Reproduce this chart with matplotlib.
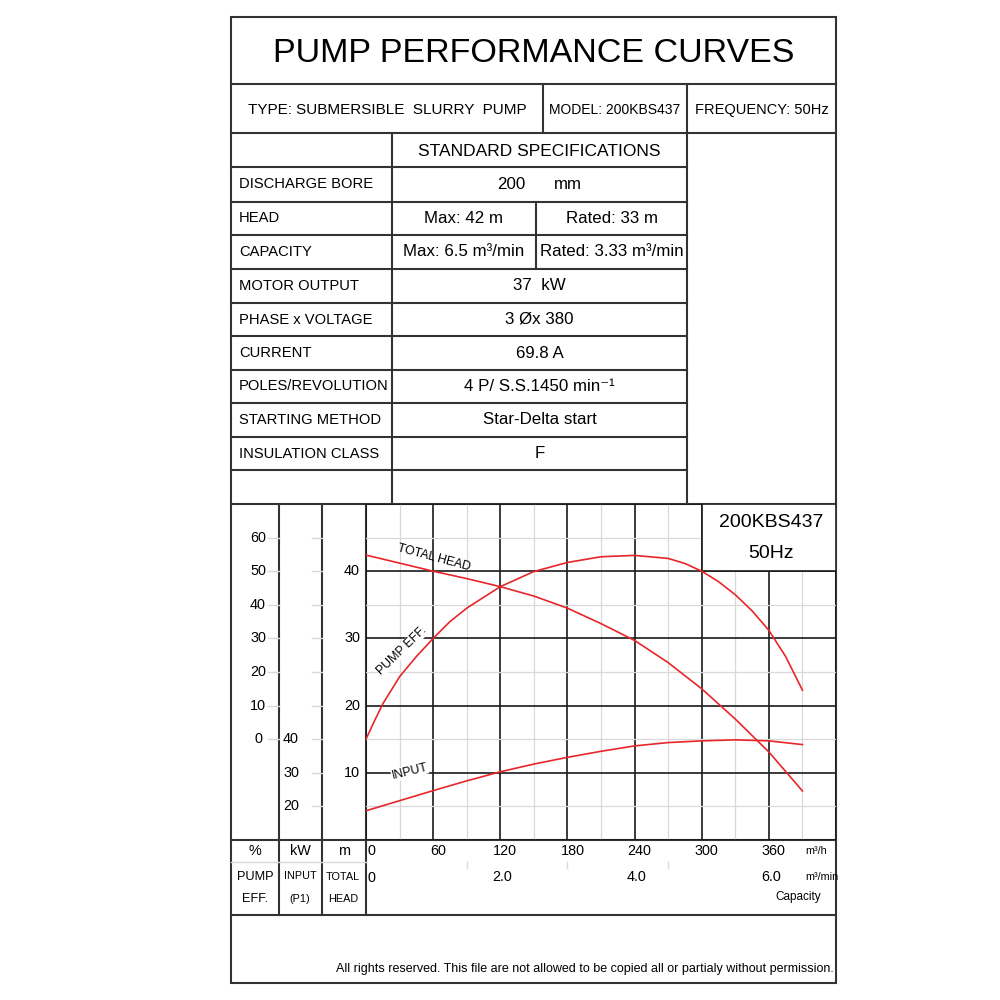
import matplotlib
matplotlib.use('Agg')
import matplotlib.pyplot as plt
import matplotlib.transforms as mtransforms
from matplotlib.patches import Rectangle

plt.rcParams['font.family'] = ['Liberation Sans', 'DejaVu Sans']

# ============================================
# CURVE DATA
# ============================================
CAPACITY_M3H = [0, 30, 60, 90, 120, 150, 180, 210, 240, 270, 300, 330, 360, 390]
TOTAL_HEAD_M = [42.4, 41.2, 40.0, 38.9, 37.7, 36.3, 34.5, 32.2, 29.7, 26.4, 22.5, 18.0, 13.1, 7.3]
INPUT_KW     = [18.7, 21.7, 24.7, 27.6, 30.3, 32.6, 34.6, 36.4, 38.0, 39.0, 39.5, 39.8, 39.5, 38.4]

EFF_CAPACITY_M3H = [0, 7.5, 15, 30, 45, 60, 75, 90, 105, 120, 150, 180, 210, 240, 270, 285,
                    300, 315, 330, 345, 360, 375, 390]
PUMP_EFF_PCT     = [0, 5.4, 10.5, 18.6, 24.6, 30.0, 35.0, 39.0, 42.2, 45.4, 49.9, 52.6, 54.3,
                    54.7, 53.8, 52.3, 50.0, 46.9, 43.0, 38.2, 32.4, 24.6, 14.6]

HEAD_TICKS = [10, 20, 30, 40]
EFF_TICKS = [0, 10, 20, 30, 40, 50, 60]
KW_TICKS = [20, 30, 40]
Q_TICKS_M3H = [0, 60, 120, 180, 240, 300, 360]
Q_TICKS_M3MIN = [0, 2.0, 4.0, 6.0]
Q_MINOR_M3MIN = [1.5, 3.0, 4.5]

# ============================================
# SPEC TABLE
# ============================================
TITLE = 'PUMP PERFORMANCE CURVES'
PUMP_TYPE = 'TYPE: SUBMERSIBLE  SLURRY  PUMP'
MODEL = 'MODEL: 200KBS437'
FREQUENCY = 'FREQUENCY: 50Hz'
SPEC_LABELS = ['DISCHARGE BORE', 'HEAD', 'CAPACITY', 'MOTOR OUTPUT', 'PHASE x VOLTAGE',
               'CURRENT', 'POLES/REVOLUTION', 'STARTING METHOD', 'INSULATION CLASS', '']
SPEC_VALUES = [None, ('Max: 42 m', 'Rated: 33 m'),
               ('Max: 6.5 m³/min', 'Rated: 3.33 m³/min'),
               '37  kW', '3 Øx 380', '69.8 A', '4 P/ S.S.1450 min⁻¹',
               'Star-Delta start', 'F', '']
FOOTER = 'All rights reserved. This file are not allowed to be copied all or partialy without permission.'

BORDER = '#333333'
GRID = '#1a1a1a'
RED = '#e8262a'
LIGHT = '#d9d9d9'

# sheet geometry in pixels (image is 1000 x 1000)
LEFT, RIGHT, TOP, BOTTOM = 231, 836, 17, 983
ROW_Y = [167, 202, 235, 269, 303, 336, 370, 403, 437, 470, 504]
COL_LABEL, COL_SPLIT, COL_VALUE = 392, 536, 687
CH_LEFT, CH_TOP, CH_BOTTOM = 366, 504, 840

LABEL_FS = 10.6
VALUE_FS = 12.2
NUM_FS = 10.4

fig = plt.figure(figsize=(10, 10), dpi=100)
bg = fig.add_axes([0, 0, 1, 1])
bg.set_xlim(0, 1000)
bg.set_ylim(1000, 0)
bg.axis('off')


def line(x0, y0, x1, y1, color=BORDER, lw=1.5):
    bg.plot([x0, x1], [y0, y1], color=color, lw=lw, solid_capstyle='projecting')


# outer frame + header rows
bg.add_patch(Rectangle((LEFT, TOP), RIGHT - LEFT, BOTTOM - TOP, fill=False,
                       edgecolor=BORDER, lw=1.5))
line(LEFT, 84, RIGHT, 84)
line(LEFT, 133, RIGHT, 133)
line(543, 84, 543, 133)
line(COL_VALUE, 84, COL_VALUE, 504)
line(COL_LABEL, 133, COL_LABEL, 504)
for y in ROW_Y[:-1]:
    line(LEFT, y, COL_VALUE, y)
line(LEFT, 504, RIGHT, 504)
line(COL_SPLIT, 202, COL_SPLIT, 269)

bg.text((LEFT + RIGHT) / 2, 53, TITLE, fontsize=24.5, ha='center', va='center')
bg.text((LEFT + 543) / 2, 110, PUMP_TYPE, fontsize=11, ha='center', va='center')
bg.text((543 + COL_VALUE) / 2, 110, MODEL, fontsize=10, ha='center', va='center')
bg.text((COL_VALUE + RIGHT) / 2, 110, FREQUENCY, fontsize=10.5, ha='center', va='center')
bg.text((COL_LABEL + COL_VALUE) / 2, 151, 'STANDARD SPECIFICATIONS', fontsize=12.5,
        ha='center', va='center')

for i, lab in enumerate(SPEC_LABELS):
    yc = (ROW_Y[i] + ROW_Y[i + 1]) / 2
    bg.text(239, yc, lab, fontsize=LABEL_FS, ha='left', va='center')
    val = SPEC_VALUES[i]
    if val is None:
        bg.text(511, yc, '200', fontsize=VALUE_FS, ha='center', va='center')
        bg.text(568, yc, 'mm', fontsize=VALUE_FS, ha='center', va='center')
    elif isinstance(val, tuple):
        bg.text((COL_LABEL + COL_SPLIT) / 2, yc, val[0], fontsize=VALUE_FS, ha='center', va='center')
        bg.text((COL_SPLIT + COL_VALUE) / 2, yc, val[1], fontsize=VALUE_FS, ha='center', va='center')
    else:
        bg.text((COL_LABEL + COL_VALUE) / 2, yc, val, fontsize=VALUE_FS, ha='center', va='center')

# chart frame: left columns and bottom rows
for x in (279, 322, CH_LEFT):
    line(x, CH_TOP, x, 915)
line(LEFT, CH_BOTTOM, RIGHT, CH_BOTTOM)
line(LEFT, 862, CH_LEFT, 862, color=LIGHT, lw=1)
line(LEFT, 915, RIGHT, 915)

bg.text(834, 969, FOOTER, fontsize=9, ha='right', va='center')

# ============================================
# CHART
# ============================================
ax = fig.add_axes([CH_LEFT / 1000, 1 - CH_BOTTOM / 1000,
                   (RIGHT - CH_LEFT) / 1000, (CH_BOTTOM - CH_TOP) / 1000])
ax.set_facecolor('none')
ax.set_xlim(0, 420)
ax.set_ylim(0, 50)
ax.set_xticks(range(0, 421, 60))
ax.set_xticks(range(30, 421, 60), minor=True)
ax.set_yticks(range(0, 51, 10))
ax.set_yticks(range(5, 51, 10), minor=True)
ax.tick_params(which='both', length=0, labelbottom=False, labelleft=False)
for s in ax.spines.values():
    s.set_visible(False)
ax.set_axisbelow(True)
ax.grid(which='minor', color=LIGHT, lw=0.9)
ax.grid(which='major', color=GRID, lw=1.2)

# model box in the upper right hides the grid
ax.add_patch(Rectangle((300, 40), 120, 10, facecolor='white', edgecolor=GRID, lw=1.2,
                       zorder=1))
ax.text(362, 47.3, '200KBS437', fontsize=14, ha='center', va='center', zorder=3)
ax.text(362, 42.7, '50Hz', fontsize=14, ha='center', va='center', zorder=3)

# efficiency and input share the x axis, with their own y scales
ax_eff = ax.twinx()
ax_eff.set_ylim(-30, 70)
ax_eff.set_axis_off()
ax_kw = ax.twinx()
ax_kw.set_ylim(10, 110)
ax_kw.set_axis_off()

ax.plot(CAPACITY_M3H, TOTAL_HEAD_M, color=RED, lw=1.2, zorder=2)
ax_eff.plot(EFF_CAPACITY_M3H, PUMP_EFF_PCT, color=RED, lw=1.2)
ax_kw.plot(CAPACITY_M3H, INPUT_KW, color=RED, lw=1.2)

white = dict(facecolor='white', edgecolor='none', pad=0.3)
ax_kw.text(61, 42.0, 'TOTAL HEAD', transform=ax.transData, fontsize=8.8, rotation=-15,
           ha='center', va='center', rotation_mode='anchor')
ax_kw.text(32, 28.2, 'PUMP EFF.', transform=ax.transData, fontsize=8.8, rotation=44,
           ha='center', va='center', rotation_mode='anchor', bbox=white)
ax_kw.text(39, 10.2, 'INPUT', transform=ax.transData, fontsize=8.8, rotation=14,
           ha='center', va='center', rotation_mode='anchor', bbox=white)

# left scale columns
head_y = mtransforms.blended_transform_factory(bg.transData, ax.transData)
eff_y = mtransforms.blended_transform_factory(bg.transData, ax_eff.transData)
kw_y = mtransforms.blended_transform_factory(bg.transData, ax_kw.transData)

for v in HEAD_TICKS:
    bg.text(360, v, str(v), transform=head_y, fontsize=NUM_FS, ha='right', va='center')
for v in EFF_TICKS:
    bg.text(258, v, str(v), transform=eff_y, fontsize=NUM_FS, ha='center', va='center')
    bg.plot([268, 279], [v, v], transform=eff_y, color=LIGHT, lw=1)
for v in KW_TICKS:
    bg.text(291, v, str(v), transform=kw_y, fontsize=NUM_FS, ha='center', va='center')
for h in range(5, 50, 5):
    bg.plot([312, 322], [h, h], transform=head_y, color=LIGHT, lw=1)

# capacity scales under the chart
q_x = mtransforms.blended_transform_factory(ax.transData, bg.transData)
for q in Q_TICKS_M3H:
    if q == 0:
        bg.text(q + 1.5, 851, '0', transform=q_x, fontsize=NUM_FS, ha='left', va='center')
    else:
        bg.text(q + 4.5, 851, str(q), transform=q_x, fontsize=NUM_FS, ha='center', va='center')
for q in Q_TICKS_M3MIN:
    if q == 0:
        bg.text(1.5, 878, '0', transform=q_x, fontsize=NUM_FS, ha='left', va='center')
    else:
        bg.text(q * 60 + 2, 877, f'{q:.1f}', transform=q_x, fontsize=NUM_FS, ha='center',
                va='center')
for q in Q_MINOR_M3MIN:
    bg.plot([q * 60, q * 60], [862, 868], transform=q_x, color=LIGHT, lw=1)

bg.text(805, 851, 'm³/h', fontsize=7.8, ha='left', va='center')
bg.text(805, 877, 'm³/min', fontsize=7.8, ha='left', va='center')
bg.text(798, 897, 'Capacity', fontsize=8.5, ha='center', va='center')

bg.text(255, 851, '%', fontsize=NUM_FS, ha='center', va='center')
bg.text(300, 851, 'kW', fontsize=NUM_FS, ha='center', va='center')
bg.text(344, 851, 'm', fontsize=NUM_FS, ha='center', va='center')
bg.text(255, 877, 'PUMP', fontsize=9.2, ha='center', va='center')
bg.text(255, 899, 'EFF.', fontsize=9.2, ha='center', va='center')
bg.text(300, 876, 'INPUT', fontsize=7.8, ha='center', va='center')
bg.text(300, 899, '(P1)', fontsize=7.8, ha='center', va='center')
bg.text(343, 877, 'TOTAL', fontsize=7.8, ha='center', va='center')
bg.text(343, 899, 'HEAD', fontsize=7.8, ha='center', va='center')

fig.savefig('out.png', dpi=100, facecolor='white')
plt.close(fig)
